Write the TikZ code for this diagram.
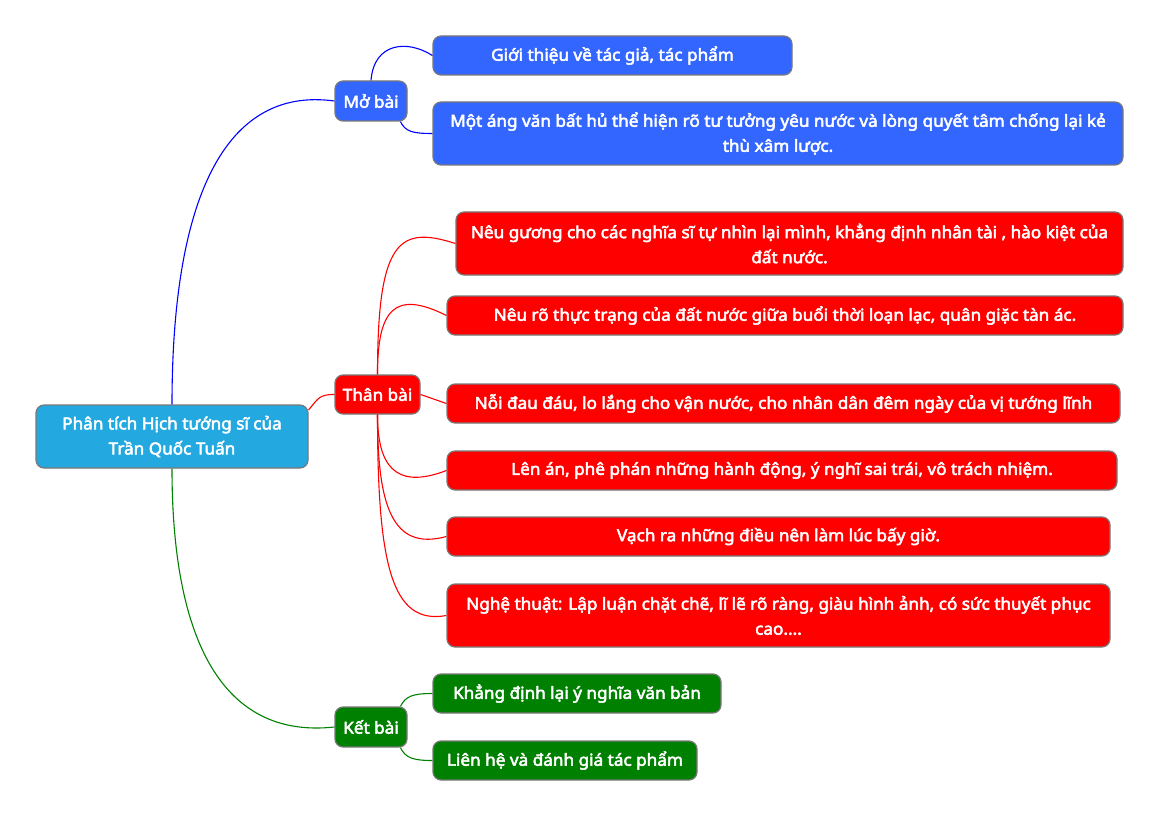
\documentclass[tikz,border=0pt]{standalone}
\usepackage{fontspec}
\setmainfont{Noto Sans}[AutoFakeBold=3, FakeStretch=1.04]
\usepackage{tikz}

\definecolor{rootblue}{RGB}{35,168,224}
\definecolor{boxblue}{RGB}{51,102,255}
\definecolor{boxred}{RGB}{255,0,0}
\definecolor{boxgreen}{RGB}{0,128,0}
\definecolor{edgegray}{RGB}{120,120,120}

\begin{document}
\begin{tikzpicture}[x=1pt,y=-1pt,
  box/.style={draw=edgegray, line width=1.2pt, rounded corners=8pt, text=white,
    font=\bfseries\fontsize{16.5}{25}\selectfont, align=center, inner sep=0pt},
  rootbox/.style={box, fill=rootblue},
  bluebox/.style={box, fill=boxblue},
  redbox/.style={box, fill=boxred},
  greenbox/.style={box, fill=boxgreen},
  bluelink/.style={draw=blue, line width=1.1pt},
  redlink/.style={draw=red, line width=1.1pt},
  greenlink/.style={draw=boxgreen, line width=1.1pt}]
\useasboundingbox (0,0) rectangle (1161,818);

\node[rootbox, minimum width=272, minimum height=63] (root) at (172,436.5) {Phân tích Hịch tướng sĩ của\\Trần Quốc Tuấn};

\node[bluebox, minimum width=72, minimum height=40] (mobai) at (371,101) {Mở bài};
\node[bluebox, minimum width=359, minimum height=39] (gioithieu) at (612.5,55.5) {Giới thiệu về tác giả, tác phẩm};
\node[bluebox, minimum width=690, minimum height=63] (motang) at (778,133.5) {Một áng văn bất hủ thể hiện rõ tư tưởng yêu nước và lòng quyết tâm chống lại kẻ\\thù xâm lược.};

\node[redbox, minimum width=85, minimum height=39] (thanbai) at (377.5,394.5) {Thân bài};
\node[redbox, minimum width=667, minimum height=63] (neuguong) at (789.5,243.5) {Nêu gương cho các nghĩa sĩ tự nhìn lại mình, khẳng định nhân tài , hào kiệt của\\đất nước.};
\node[redbox, minimum width=676, minimum height=39] (neuro) at (785,315.5) {Nêu rõ thực trạng của đất nước giữa buổi thời loạn lạc, quân giặc tàn ác.};
\node[redbox, minimum width=673, minimum height=39] (noidau) at (783.5,403.5) {Nỗi đau đáu, lo lắng cho vận nước, cho nhân dân đêm ngày của vị tướng lĩnh};
\node[redbox, minimum width=670, minimum height=39] (lenan) at (782,470.5) {Lên án, phê phán những hành động, ý nghĩ sai trái, vô trách nhiệm.};
\node[redbox, minimum width=663, minimum height=39] (vachra) at (778.5,536.5) {Vạch ra những điều nên làm lúc bấy giờ.};
\node[redbox, minimum width=663, minimum height=63] (nghethuat) at (778.5,615.5) {Nghệ thuật: Lập luận chặt chẽ, lĩ lẽ rõ ràng, giàu hình ảnh, có sức thuyết phục\\cao....};

\node[greenbox, minimum width=72, minimum height=40] (ketbai) at (371,727) {Kết bài};
\node[greenbox, minimum width=288, minimum height=39] (khangdinh) at (577,693.5) {Khẳng định lại ý nghĩa văn bản};
\node[greenbox, minimum width=264, minimum height=39] (lienhe) at (565,760.5) {Liên hệ và đánh giá tác phẩm};

\draw[bluelink] (root.north) .. controls +(0,-205) and +(-110,-15) .. (mobai.west);
\draw[redlink] (root.11) .. controls +(10,-12) and +(-15,0) .. (thanbai.west);
\draw[greenlink] (root.south) .. controls +(0,175) and +(-110,12) .. (ketbai.west);

\draw[bluelink] (mobai.north) .. controls +(3,-38) and +(-25,-16) .. (gioithieu.west);
\draw[bluelink] (mobai.-35) .. controls +(5,10) and +(-20,0) .. (motang.west);

\draw[redlink] (thanbai.north) .. controls +(0,-135) and +(-56,-18) .. (neuguong.west);
\draw[redlink] (thanbai.north) .. controls +(0,-65) and +(-52,-26) .. (neuro.west);
\draw[redlink] (thanbai.east) -- (noidau.west);
\draw[redlink] (thanbai.south) .. controls +(0,50) and +(-52,20) .. (lenan.west);
\draw[redlink] (thanbai.south) .. controls +(0,90) and +(-55,15) .. (vachra.west);
\draw[redlink] (thanbai.south) .. controls +(0,150) and +(-55,10) .. (nghethuat.west);

\draw[greenlink] (ketbai.35) .. controls +(5,-10) and +(-20,0) .. (khangdinh.west);
\draw[greenlink] (ketbai.-35) .. controls +(5,10) and +(-20,0) .. (lienhe.west);
\end{tikzpicture}
\end{document}
